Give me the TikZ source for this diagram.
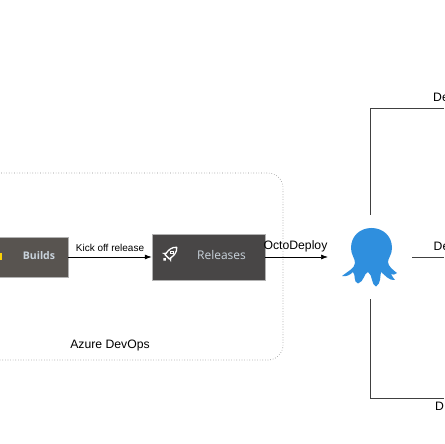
\documentclass[tikz,border=0pt]{standalone}
\usepackage{fontspec}
\setmainfont{Liberation Sans}
\newfontfamily\boxfont{Open Sans}
\usetikzlibrary{arrows.meta}
\definecolor{buildsfill}{HTML}{585450}
\definecolor{relfill}{HTML}{484646}
\definecolor{octo}{HTML}{2F8FDE}
\definecolor{boxtxt}{HTML}{C9D3DC}
\tikzset{
  x=1pt,y=1pt,
  lbl/.style={inner sep=0pt,text=black,anchor=center},
  flow/.style={draw=black,line width=0.7pt,-{Latex[length=7pt,width=5pt]}},
  conn/.style={draw=black!75,line width=0.9pt},
  appbox/.style={inner sep=0pt,minimum height=#1,draw=black!30,line width=0.5pt},
  tinypt/.style={inner sep=0pt,minimum size=0pt}
}
\begin{document}
\begin{tikzpicture}
\useasboundingbox (0,0) rectangle (444,444);
\clip (0,0) rectangle (444,444);
\fill[white] (0,0) rectangle (444,444);
\draw[black!45,line width=0.6pt,dotted,rounded corners=15pt] (-30,271) -- (283,271) -- (283,84) -- (-30,84);
\node[appbox=40pt,fill=buildsfill,minimum width=78pt] (builds) at (29,187) {};
\node[font=\boxfont\bfseries\fontsize{10.5}{12}\selectfont,text=boxtxt,inner sep=0pt] (buildstxt) at (39,188) {Builds};
\fill[yellow!70!orange] (0,184) rectangle (1.5,191);
\node[appbox=46pt,fill=relfill,minimum width=113pt] (rel) at (208.5,187) {};
\node[font=\boxfont\fontsize{12}{14}\selectfont,text=boxtxt,inner sep=0pt] (reltxt) at (221.5,188.5) {Releases};
\begin{scope}[shift={(170,190)},rotate=-45]
\draw[white,line width=1.3pt,line join=round] (0,9.5) .. controls (4,6) and (4,2) .. (3,-4) -- (-3,-4) .. controls (-4,2) and (-4,6) .. (0,9.5) -- cycle;
\draw[white,line width=0.8pt] (0,2.5) circle[radius=1.6];
\fill[white] (-3,-1) -- (-6.5,-5) -- (-3,-4) -- cycle;
\fill[white] (3,-1) -- (6.5,-5) -- (3,-4) -- cycle;
\fill[white] (0,-7.5) circle[radius=1.7];
\end{scope}
\node[lbl,font=\fontsize{10}{11}\selectfont] (kick) at (110,196.5) {Kick off release};
\node[lbl,font=\fontsize{12.2}{14}\selectfont] (odeploy) at (295.5,198) {OctoDeploy};
\node[lbl,font=\fontsize{12.2}{14}\selectfont] (azure) at (110,98) {Azure DevOps};
\coordinate (relend) at (328,187);
\draw[flow] (builds.east) -- (rel.west);
\draw[flow] (rel.east) -- (relend);
\begin{scope}[shift={(0,444)},yscale=-1]
\fill[octo] (351,248) .. controls (351,236) and (360,228) .. (371.5,228)
  .. controls (383,228) and (392,236) .. (392,248)
  .. controls (392,255) and (388,258) .. (388,262)
  .. controls (388,266) and (393,270) .. (397,273)
  .. controls (395,275) and (393,275) .. (391,274)
  .. controls (392,277) and (394,278) .. (395,280)
  .. controls (389,281) and (385,275) .. (381,272)
  .. controls (380,276) and (381,284) .. (376,286.5)
  .. controls (371,285) and (373,275) .. (368,272)
  .. controls (364,273) and (364,282) .. (358,283.5)
  .. controls (353,282) and (356,275) .. (353,272)
  .. controls (350,275) and (346,277) .. (342,276)
  .. controls (347,272) and (355,268) .. (355,263)
  .. controls (355,258) and (351,255) .. (351,248) -- cycle;
\end{scope}
\node[tinypt] (octotop) at (370.5,229) {};
\node[tinypt] (octobot) at (370.5,145) {};
\node[tinypt] (octoright) at (412,187) {};
\node[lbl,font=\fontsize{12.2}{14}\selectfont,anchor=west] (d1) at (433,346.5) {De};
\node[lbl,font=\fontsize{12.2}{14}\selectfont,anchor=west] (d2) at (433.5,198) {De};
\node[lbl,font=\fontsize{12.2}{14}\selectfont,anchor=west] (d3) at (435,38) {D};
\coordinate (t1) at (444,336);
\coordinate (t2) at (444,187);
\coordinate (t3) at (444,46);
\draw[conn] (octotop) -- (octotop|-t1) -- (t1);
\draw[conn] (octoright) -- (t2);
\draw[conn] (octobot) -- (octobot|-t3) -- (t3);
\end{tikzpicture}
\end{document}
